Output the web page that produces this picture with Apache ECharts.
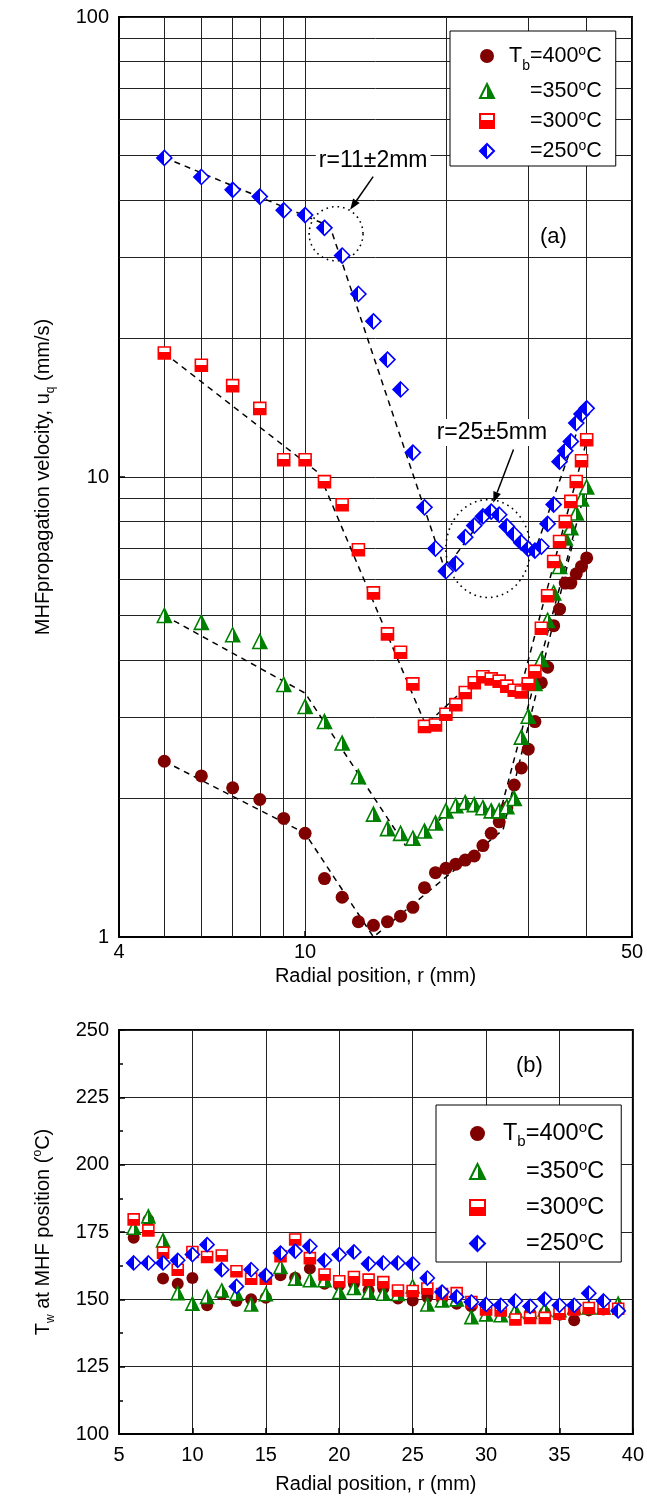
<!DOCTYPE html>
<html>
<head>
<meta charset="utf-8">
<script src="https://cdn.jsdelivr.net/npm/echarts@6.0.0/dist/echarts.min.js"></script>
<style>
html,body{margin:0;padding:0;background:#ffffff;}
#chart{width:647px;height:1508px;}
</style>
</head>
<body>
<div id="chart"></div>
<script>
const FONT = "'Liberation Sans', Arial, Helvetica, sans-serif";

// ---------- Panel (a): MHF propagation velocity ----------
const rA = [5,6,7,8,9,10,11,12,13,14,15,16,17,18,19,20,21,22,23,24,25,26,27,28,29,30,31,32,33,34,35,36,37,38,39,40];
const uA400 = [2.41,2.24,2.11,1.99,1.81,1.68,1.34,1.22,1.08,1.06,1.08,1.11,1.16,1.28,1.38,1.41,1.44,1.47,1.50,1.58,1.68,1.78,1.91,2.14,2.33,2.56,2.94,3.57,3.86,4.75,5.16,5.88,5.88,6.16,6.39,6.67];
const uA350 = [5.0,4.83,4.54,4.39,3.54,3.17,2.94,2.64,2.23,1.85,1.72,1.68,1.64,1.70,1.77,1.88,1.93,1.96,1.94,1.91,1.88,1.88,1.92,2.00,2.72,3.02,3.56,4.01,4.88,5.60,6.39,7.37,7.76,8.35,8.96,9.51];
const uA300 = [18.6,17.5,15.8,14.1,10.9,10.9,9.77,8.70,6.95,5.60,4.56,4.16,3.55,2.87,2.89,3.05,3.20,3.40,3.57,3.68,3.64,3.60,3.51,3.44,3.41,3.55,3.78,4.69,5.52,6.55,7.24,8.0,8.85,9.78,10.85,12.05];
const uA250 = [49.4,44.9,42.1,40.7,38.0,37.1,34.8,30.3,25.0,21.8,18.0,15.5,11.3,8.59,6.99,6.24,6.48,7.40,7.84,8.21,8.41,8.28,7.81,7.50,7.20,6.98,6.92,7.06,7.91,8.71,10.8,11.4,11.95,13.1,13.7,14.1];

// dashed piecewise fits (r, u)
const fitR400 = [5, 10, 14, 26.5, 37.5];
const fitU400 = [2.41, 1.68, 1.0, 1.71, 7.3];
const fitR350 = [5, 10, 16.4, 21.8, 26.1, 40];
const fitU350 = [5.0, 3.39, 1.58, 1.97, 1.86, 9.6];
const fitR300 = [5, 10.7, 18.1, 23.7, 28.8, 40];
const fitU300 = [18.6, 10.2, 2.89, 3.72, 3.42, 12.0];
const fitR250 = [5, 11.3, 19.9, 24.9, 30.8, 40];
const fitU250 = [49.5, 35.1, 6.29, 8.56, 6.78, 14.4];

// log-axis gridlines
const xGridA = [5,6,7,8,9,20,30,40];
const yGridA = [2,3,4,5,6,7,8,9,20,30,40,50,60,70,80,90];

// annotations (data coordinates)
const circleBoxes = [[10.2, 38.7, 13.3, 29.5], [20.0, 8.93, 30.3, 5.47]];
const arrows = [[13.98, 44.97, 12.48, 38.1], [27.9, 11.47, 25.25, 8.79]];
const noteR = [13.98, 25.08];
const noteU = [48.7, 12.5];
const noteText = ['r=11\u00B12mm', 'r=25\u00B15mm'];

// ---------- Panel (b): wall temperature at MHF position ----------
const rB = [6,7,8,9,10,11,12,13,14,15,16,17,18,19,20,21,22,23,24,25,26,27,28,29,30,31,32,33,34,35,36,37,38,39];
const tB400 = [172.9,179.5,157.7,155.8,157.9,147.8,151.9,149.4,150.0,150.6,158.9,158.0,161.4,155.8,155.2,155.8,153.3,154.0,150.3,149.6,150.9,150.0,148.4,147.4,147.0,146.0,144.0,145.0,145.0,144.3,142.2,145.9,146.2,146.0];
const tB350 = [176.6,180.8,171.9,152.3,148.4,150.9,153.3,152.1,148.1,151.9,162.0,157.7,157.1,157.1,152.7,154.2,152.7,152.1,152.0,154.8,148.1,149.6,150.0,143.4,144.4,144.1,145.9,145.3,146.2,146.0,147.0,147.0,147.0,148.4];
const tB300 = [179.7,175.6,167.3,161.0,167.6,165.7,166.3,160.4,157.7,157.7,166.0,172.2,165.3,159.2,156.7,158.3,157.3,156.4,153.3,153.1,154.0,152.0,152.3,149.0,146.2,145.9,142.5,143.1,143.1,144.7,146.2,146.8,146.5,146.5];
const tB250 = [163.5,163.5,163.5,164.5,166.6,170.3,161.0,154.8,161.0,158.9,167.2,167.9,169.7,164.5,166.6,167.6,163.2,163.5,163.5,163.2,157.9,152.7,150.9,149.0,148.1,147.8,149.4,147.4,150.1,147.8,147.8,152.3,149.4,145.7];

const seriesNames = ['400', '350', '300', '250'];
const legendLabels = {
  '400': '{gap|}{n|T}{sub|b}{n|=400}{sup|o}{n|C}',
  '350': '{gap|}{sp|}{n|=350}{sup|o}{n|C}',
  '300': '{gap|}{sp|}{n|=300}{sup|o}{n|C}',
  '250': '{gap|}{sp|}{n|=250}{sup|o}{n|C}'
};

function zip(xs, ys) { return xs.map((x, i) => [x, ys[i]]); }
function grad(horizontal, c1, c2, stop) {
  return {type: 'linear', x: 0, y: 0, x2: horizontal ? 1 : 0, y2: horizontal ? 0 : 1,
    colorStops: [{offset: 0, color: c1}, {offset: stop, color: c1}, {offset: stop, color: c2}, {offset: 1, color: c2}]};
}
const markerStyles = {
  '400': {symbol: 'circle', sizeA: 13, sizeB: 12, itemStyle: {color: '#800000', opacity: 1}},
  '350': {symbol: 'triangle', sizeA: 14, sizeB: 13, itemStyle: {color: grad(true, '#ffffff', '#008000', 0.5), borderColor: '#008000', borderWidth: 1.6, opacity: 1}},
  '300': {symbol: 'rect', sizeA: 12, sizeB: 11, itemStyle: {color: grad(false, '#ffffff', '#ff0000', 0.45), borderColor: '#ff0000', borderWidth: 1.6, opacity: 1}},
  '250': {symbol: 'diamond', sizeA: 15, sizeB: 14, itemStyle: {color: grad(true, '#0000ff', '#ffffff', 0.5), borderColor: '#0000ff', borderWidth: 1.6, opacity: 1}}
};
const dataA = {'400': uA400, '350': uA350, '300': uA300, '250': uA250};
const dataB = {'400': tB400, '350': tB350, '300': tB300, '250': tB250};
const fitsA = [[fitR400, fitU400], [fitR350, fitU350], [fitR300, fitU300], [fitR250, fitU250]];

function richFor(fs, small, lh, subPad, supPad, spW, gapW) {
  return {
    n: {fontSize: fs, fontFamily: FONT, color: '#000', lineHeight: lh},
    sub: {fontSize: small, fontFamily: FONT, color: '#000', lineHeight: small + 1, padding: [subPad, 0, 0, 0]},
    sup: {fontSize: small, fontFamily: FONT, color: '#000', lineHeight: small + 1, padding: [0, 0, supPad, 0]},
    sp: {width: spW},
    gap: {width: gapW}
  };
}
const richLegendA = richFor(21.5, 14, 24, 20, 10, 21, 10);
const richLegendB = richFor(23.5, 15, 28, 16, 12, 23, 13);
const richAxis = {
  n: {fontSize: 20, fontFamily: FONT, color: '#000', lineHeight: 24},
  sub: {fontSize: 12, fontFamily: FONT, color: '#000', lineHeight: 14, padding: [16, 0, 0, 0]},
  sup: {fontSize: 12, fontFamily: FONT, color: '#000', lineHeight: 14, padding: [0, 0, 10, 0]}
};

const series = [];
// gridline carrier for panel (a)
series.push({
  type: 'scatter', xAxisIndex: 0, yAxisIndex: 0, data: [[4, 1]], symbolSize: 0, silent: true, z: 1,
  markLine: {
    silent: true, symbol: ['none', 'none'], label: {show: false}, animation: false, z: 1,
    lineStyle: {color: '#222', width: 1, type: 'solid'},
    emphasis: {disabled: true},
    data: xGridA.map(v => ({xAxis: v})).concat(yGridA.map(v => ({yAxis: v})))
  }
});
// annotation circles
series.push({
  type: 'custom', xAxisIndex: 0, yAxisIndex: 0, z: 3, silent: true, data: circleBoxes,
  encode: {x: [0, 2], y: [1, 3]},
  renderItem: function (params, api) {
    const a = api.coord([api.value(0), api.value(1)]);
    const b = api.coord([api.value(2), api.value(3)]);
    const cx = (a[0] + b[0]) / 2, cy = (a[1] + b[1]) / 2;
    const rx = Math.abs(b[0] - a[0]) / 2, ry = Math.abs(b[1] - a[1]) / 2;
    const pts = [];
    for (let i = 0; i < 90; i++) { const t = i / 90 * 2 * Math.PI; pts.push([cx + rx * Math.cos(t), cy + ry * Math.sin(t)]); }
    return {type: 'polygon', shape: {points: pts}, style: {fill: 'none', stroke: '#000', lineWidth: 1.6, lineDash: [1.6, 4]}};
  }
});
// arrows
series.push({
  type: 'custom', xAxisIndex: 0, yAxisIndex: 0, z: 3, silent: true, data: arrows,
  encode: {x: [0, 2], y: [1, 3]},
  renderItem: function (params, api) {
    const a = api.coord([api.value(0), api.value(1)]);
    const b = api.coord([api.value(2), api.value(3)]);
    const ang = Math.atan2(b[1] - a[1], b[0] - a[0]);
    const L = 11, W = 4;
    const base = [b[0] - L * Math.cos(ang), b[1] - L * Math.sin(ang)];
    const p1 = [base[0] + W * Math.sin(ang), base[1] - W * Math.cos(ang)];
    const p2 = [base[0] - W * Math.sin(ang), base[1] + W * Math.cos(ang)];
    return {type: 'group', children: [
      {type: 'line', shape: {x1: a[0], y1: a[1], x2: base[0], y2: base[1]}, style: {stroke: '#000', lineWidth: 1.5}},
      {type: 'polygon', shape: {points: [b, p1, p2]}, style: {fill: '#000'}}
    ]};
  }
});
// notes
series.push({
  type: 'custom', xAxisIndex: 0, yAxisIndex: 0, z: 3, silent: true, data: zip(noteR, noteU),
  renderItem: function (params, api) {
    const p = api.coord([api.value(0), api.value(1)]);
    return {type: 'text', x: p[0], y: p[1], style: {text: noteText[params.dataIndex], font: '23px ' + FONT, fill: '#000',
      align: 'center', verticalAlign: 'middle', textAlign: 'center', textVerticalAlign: 'middle', backgroundColor: '#fff', padding: [2, 3]}};
  }
});
// dashed fits
fitsA.forEach(f => {
  series.push({
    type: 'line', xAxisIndex: 0, yAxisIndex: 0, data: zip(f[0], f[1]), symbol: 'none', silent: true, z: 4,
    lineStyle: {color: '#000', width: 1.5, type: [6, 5]}, animation: false
  });
});
// markers (a) & (b)
seriesNames.forEach(n => {
  const m = markerStyles[n];
  series.push({name: n, type: 'scatter', xAxisIndex: 0, yAxisIndex: 0, data: zip(rA, dataA[n]), symbol: m.symbol, symbolSize: m.sizeA, itemStyle: m.itemStyle, z: 5, animation: false});
});
seriesNames.forEach(n => {
  const m = markerStyles[n];
  series.push({name: n, type: 'scatter', xAxisIndex: 1, yAxisIndex: 1, data: zip(rB, dataB[n]), symbol: m.symbol, symbolSize: m.sizeB, itemStyle: m.itemStyle, z: 5, animation: false});
});

const axisCommon = {
  axisLine: {show: true, lineStyle: {color: '#000', width: 2}},
  axisTick: {show: true, inside: true, length: 6, lineStyle: {color: '#000', width: 1.5}},
  splitLine: {show: true, lineStyle: {color: '#222', width: 1}},
  nameTextStyle: {rich: richAxis}
};

const option = {
  backgroundColor: '#ffffff',
  animation: false,
  grid: [
    {left: 119, top: 17, width: 513, height: 920, show: true, borderColor: '#000', borderWidth: 2, backgroundColor: 'transparent'},
    {left: 119, top: 1030, width: 514, height: 404, show: true, borderColor: '#000', borderWidth: 2, backgroundColor: 'transparent'}
  ],
  xAxis: [
    Object.assign({}, axisCommon, {
      type: 'log', logBase: 10, min: 4, max: 50, gridIndex: 0,
      axisLabel: {fontSize: 20, fontFamily: FONT, color: '#000', margin: 5, formatter: v => String(Math.round(v))},
      name: '{n|Radial position, r (mm)}', nameLocation: 'middle', nameGap: 16
    }),
    Object.assign({}, axisCommon, {
      type: 'value', min: 5, max: 40, interval: 5, gridIndex: 1,
      axisLabel: {fontSize: 20, fontFamily: FONT, color: '#000', margin: 11},
      name: '{n|Radial position, r (mm)}', nameLocation: 'middle', nameGap: 38
    })
  ],
  yAxis: [
    Object.assign({}, axisCommon, {
      type: 'log', logBase: 10, min: 1, max: 100, gridIndex: 0,
      axisLabel: {fontSize: 20, fontFamily: FONT, color: '#000', margin: 10, formatter: v => String(Math.round(v))},
      name: '{n|MHFpropagation velocity, u}{sub|q}{n| (mm/s)}', nameLocation: 'middle', nameGap: 64, nameRotate: 90
    }),
    Object.assign({}, axisCommon, {
      type: 'value', min: 100, max: 250, interval: 25, gridIndex: 1,
      minorTick: {show: true, splitNumber: 2, length: 4, lineStyle: {color: '#000', width: 1.5}},
      axisLabel: {fontSize: 20, fontFamily: FONT, color: '#000', margin: 10},
      name: '{n|T}{sub|w}{n| at MHF position (}{sup|o}{n|C)}', nameLocation: 'middle', nameGap: 64, nameRotate: 90
    })
  ],
  legend: [
    {
      data: seriesNames, orient: 'vertical', left: 450, top: 31, selectedMode: false,
      backgroundColor: '#fff', borderColor: '#000', borderWidth: 1, borderRadius: 0,
      padding: [8, 14, 3, 29], itemWidth: 14, itemHeight: 14, itemGap: 6, itemTextGap: 10,
      formatter: n => legendLabels[n], textStyle: {rich: richLegendA}
    },
    {
      data: seriesNames, orient: 'vertical', left: 436, top: 1105, selectedMode: false,
      backgroundColor: '#fff', borderColor: '#000', borderWidth: 1, borderRadius: 0,
      padding: [13, 17, 5, 33], itemWidth: 15, itemHeight: 15, itemGap: 9, itemTextGap: 10,
      formatter: n => legendLabels[n], textStyle: {rich: richLegendB}
    }
  ],
  graphic: [
    {type: 'text', left: 540, top: 226, style: {text: '(a)', font: '22px ' + FONT, fill: '#000'}},
    {type: 'text', left: 516, top: 1055, style: {text: '(b)', font: '22px ' + FONT, fill: '#000'}}
  ],
  series: series
};

const chart = echarts.init(document.getElementById('chart'), null, {renderer: 'canvas'});
chart.setOption(option);
</script>
</body>
</html>
